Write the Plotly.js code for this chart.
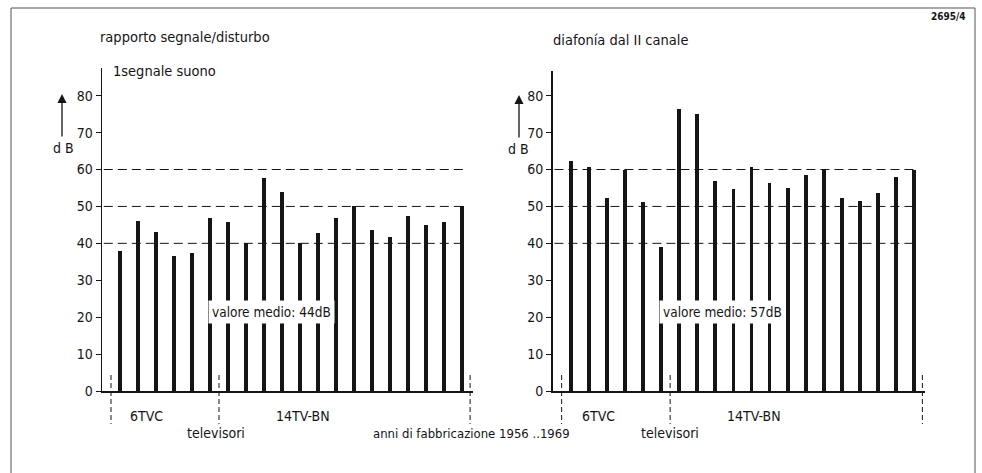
<!DOCTYPE html>
<html>
<head>
<meta charset="utf-8">
<script src="https://cdn.plot.ly/plotly-3.0.1.min.js"></script>
<style>
  html, body { margin: 0; padding: 0; background: #ffffff; }
  #chart { width: 982px; height: 473px; }
</style>
</head>
<body>
<div id="chart"></div>
<script>
// ---- data ----
const televisori = ["TVC 1", "TVC 2", "TVC 3", "TVC 4", "TVC 5", "TVC 6",
  "BN 1", "BN 2", "BN 3", "BN 4", "BN 5", "BN 6", "BN 7",
  "BN 8", "BN 9", "BN 10", "BN 11", "BN 12", "BN 13", "BN 14"];
const segnaleDisturbo = [38, 46, 43, 36.5, 37.5, 47, 45.7, 40, 57.8, 54,
  40, 42.8, 47, 50, 43.6, 41.6, 47.5, 45, 45.9, 50];
const diafonia = [62.4, 60.7, 52.4, 60, 51.2, 39, 76.5, 75.1, 56.8, 54.7,
  60.7, 56.3, 55, 58.5, 60, 52.3, 51.4, 53.6, 58, 60];
const refLines = [40, 50, 60];
const yTicks = [0, 10, 20, 30, 40, 50, 60, 70, 80];
const mediaSegnale = "valore medio: 44dB";
const mediaDiafonia = "valore medio: 57dB";

// ---- layout helpers ----
const W = 982, H = 473;
const px = v => v / W;
const py = v => (H - v) / H;
const FONT = "DejaVu Sans Condensed, Liberation Sans Narrow, sans-serif";
const INK = "#151515";

const traces = [
  { type: "bar", x: televisori, y: segnaleDisturbo, width: 0.21,
    marker: { color: INK, line: { width: 0 } }, xaxis: "x", yaxis: "y",
    hoverinfo: "x+y", showlegend: false },
  { type: "bar", x: televisori, y: diafonia, width: 0.21,
    marker: { color: INK, line: { width: 0 } }, xaxis: "x2", yaxis: "y2",
    hoverinfo: "x+y", showlegend: false }
];

function xAxis(domain) {
  return { domain: domain, type: "category", range: [-1, 19.6],
    showline: true, linecolor: INK, linewidth: 1.5,
    ticks: "", showticklabels: false, showgrid: false, zeroline: false,
    fixedrange: true };
}
function yAxis(anchor, top) {
  return { domain: [py(391), py(top)], range: [0, 87.5 * (391 - top) / 323], anchor: anchor,
    showline: true, linecolor: INK, linewidth: 1.5,
    ticks: "outside", ticklen: 5, tickwidth: 1, tickcolor: INK,
    tickvals: yTicks, ticktext: yTicks.map(String),
    tickfont: { family: FONT, size: 14, color: INK },
    showgrid: false, zeroline: false, fixedrange: true };
}

const shapes = [];
// dashed reference lines
[["x", "y"], ["x2", "y2"]].forEach(([xr, yr]) => {
  refLines.forEach(v => {
    shapes.push({ type: "line", xref: xr, yref: yr, x0: -0.9, x1: 19.05, y0: v, y1: v,
      line: { color: INK, width: 1, dash: "9px,5px" } });
  });
  // group separators below the axis
  [-0.5, 5.5, 19.45].forEach(g => {
    shapes.push({ type: "line", xref: xr, yref: "paper", x0: g, x1: g,
      y0: py(375), y1: py(424),
      line: { color: INK, width: 1, dash: "5px,3px" } });
  });
});
// frame
shapes.push({ type: "line", xref: "paper", yref: "paper", x0: px(11), x1: px(975), y0: py(8), y1: py(8), line: { color: "#555", width: 1 } });
shapes.push({ type: "line", xref: "paper", yref: "paper", x0: px(11), x1: px(11), y0: py(8), y1: 0, line: { color: "#555", width: 1 } });
shapes.push({ type: "line", xref: "paper", yref: "paper", x0: px(975), x1: px(975), y0: py(8), y1: 0, line: { color: "#555", width: 1 } });

const f = (size) => ({ family: FONT, size: size, color: INK });
function label(xref, x, y, text, size, xanchor) {
  return { xref: xref, yref: "paper", x: x, y: py(y), text: text, showarrow: false,
    xanchor: xanchor || "center", yanchor: "middle", font: f(size) };
}
const annotations = [
  label("paper", px(98), 37, "rapporto segnale/disturbo", 14.5, "left"),
  label("paper", px(111), 71, "1segnale suono", 14.5, "left"),
  label("paper", px(551), 40, "diafonía dal II canale", 14.5, "left"),
  label("paper", px(948), 16, "<b>2695/4</b>", 10),
  // dB arrows
  { xref: "paper", yref: "paper", x: px(62), y: py(94), ax: 0, ay: 44, text: "",
    showarrow: true, arrowhead: 2, arrowsize: 1.4, arrowwidth: 1.3, arrowcolor: INK },
  label("paper", px(63), 148, "d B", 14),
  { xref: "paper", yref: "paper", x: px(519), y: py(95), ax: 0, ay: 44, text: "",
    showarrow: true, arrowhead: 2, arrowsize: 1.4, arrowwidth: 1.3, arrowcolor: INK },
  label("paper", px(518), 149, "d B", 14),
  // mean values (white box breaks the bars)
  { xref: "x", yref: "y", x: 8.44, y: 21.5, text: mediaSegnale, showarrow: false,
    xanchor: "center", yanchor: "middle", bgcolor: "#ffffff", borderpad: 3, font: f(13.5) },
  { xref: "x2", yref: "y2", x: 8.42, y: 21.5, text: mediaDiafonia, showarrow: false,
    xanchor: "center", yanchor: "middle", bgcolor: "#ffffff", borderpad: 3, font: f(13.5) },
  // group labels
  label("x", 1.48, 416, "6TVC", 14),
  label("x", 10.14, 416, "14TV-BN", 14),
  label("x", 5.36, 433, "televisori", 14),
  label("x2", 1.54, 416, "6TVC", 14),
  label("x2", 10.14, 416, "14TV-BN", 14),
  label("x2", 5.5, 433, "televisori", 14),
  label("paper", px(471), 433, "anni di fabbricazione 1956 ..1969", 13)
];

const layout = {
  width: W, height: H,
  margin: { l: 0, r: 0, t: 0, b: 0, pad: 0 },
  paper_bgcolor: "#ffffff", plot_bgcolor: "rgba(0,0,0,0)",
  showlegend: false, bargap: 0,
  xaxis: xAxis([px(102), px(472.8)]),
  yaxis: yAxis("x", 68),
  xaxis2: xAxis([px(552.6), px(925.1)]),
  yaxis2: yAxis("x2", 71),
  shapes: shapes, annotations: annotations,
  font: { family: FONT, color: INK }
};
layout.xaxis2.anchor = "y2";
layout.xaxis.anchor = "y";

Plotly.newPlot("chart", traces, layout, { staticPlot: true, displayModeBar: false });
</script>
</body>
</html>
